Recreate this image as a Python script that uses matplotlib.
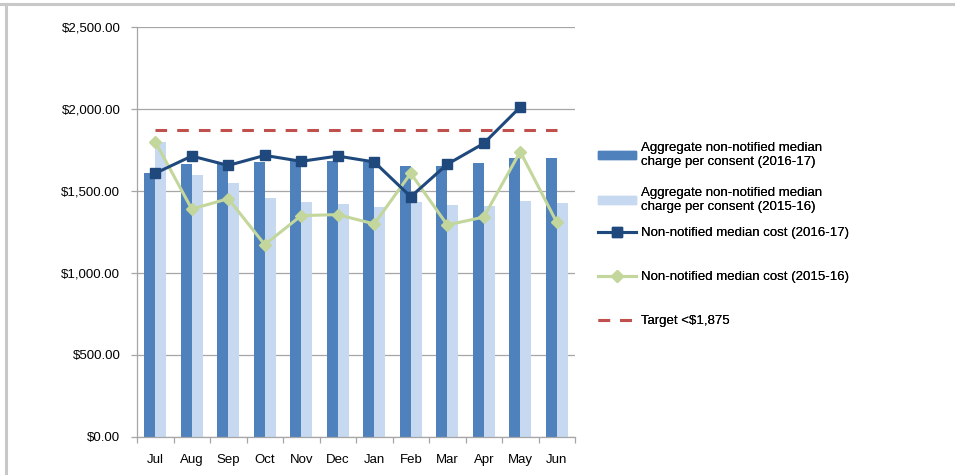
import matplotlib
matplotlib.use('Agg')
import matplotlib.pyplot as plt
import numpy as np
from matplotlib.lines import Line2D
from matplotlib.patches import Rectangle
from matplotlib.ticker import FuncFormatter

plt.rcParams['font.family'] = ['Liberation Sans', 'DejaVu Sans']

months = ["Jul", "Aug", "Sep", "Oct", "Nov", "Dec", "Jan", "Feb", "Mar", "Apr", "May", "Jun"]
charge_1617 = [1611, 1662, 1668, 1679, 1683, 1683, 1675, 1655, 1655, 1671, 1701, 1701]
charge_1516 = [1801, 1598, 1549, 1457, 1435, 1421, 1404, 1431, 1415, 1409, 1439, 1427]
cost_1617 = [1608, 1713, 1656, 1717, 1681, 1713, 1677, 1465, 1663, 1790, 2012, np.nan]
cost_1516 = [1801, 1390, 1453, 1173, 1350, 1356, 1299, 1608, 1293, 1341, 1740, 1309]
target = 1875

labels = ["Aggregate non-notified median\ncharge per consent (2016-17)",
          "Aggregate non-notified median\ncharge per consent (2015-16)",
          "Non-notified median cost (2016-17)",
          "Non-notified median cost (2015-16)",
          "Target <$1,875"]

c_dark_bar = '#4F81BD'
c_light_bar = '#C6D9F1'
c_dark_line = '#1F497D'
c_green = '#C3D69B'
c_red = '#C0504D'
c_grid = '#A6A6A6'

fig = plt.figure(figsize=(9.55, 4.75), dpi=100)
ax = fig.add_axes([137 / 955, 38 / 475, 438 / 955, 410 / 475])

x = np.arange(len(months))
w = 0.3
ax.bar(x - w / 2, charge_1617, w, color=c_dark_bar, zorder=2)
ax.bar(x + w / 2, charge_1516, w, color=c_light_bar, zorder=2)
ax.plot(x, cost_1617, color=c_dark_line, lw=2.2, marker='s', ms=7.5, zorder=4)
ax.plot(x, cost_1516, color=c_green, lw=2.2, marker='D', ms=6.5, zorder=3)
ax.plot(x, [target] * len(x), color=c_red, lw=2.2, dashes=(3.8, 3.3), zorder=3)

ax.set_xlim(-0.5, len(months) - 0.5)
ax.set_ylim(0, 2500)
ax.set_yticks(np.arange(0, 2501, 500))
ax.yaxis.set_major_formatter(FuncFormatter(lambda v, p: "${:,.2f}".format(v)))
ax.set_xticks(x)
ax.set_xticklabels(months)
ax.set_xticks(np.arange(-0.5, len(months)), minor=True)
ax.tick_params(axis='x', which='major', length=0, pad=12, labelsize=9.5)
ax.tick_params(axis='x', which='minor', length=4, color=c_grid, width=0.9)
ax.tick_params(axis='y', length=4, color=c_grid, width=0.9, pad=8, labelsize=9.5)
ax.yaxis.grid(True, color=c_grid, lw=0.9, zorder=0)
ax.set_axisbelow(True)
for s in ['top', 'right']:
    ax.spines[s].set_visible(False)
for s in ['left', 'bottom']:
    ax.spines[s].set_color(c_grid)
    ax.spines[s].set_linewidth(0.9)

# legend, one entry per box so the spacing follows the reference
handles = [Rectangle((0, 0), 1, 1, color=c_dark_bar),
           Rectangle((0, 0), 1, 1, color=c_light_bar),
           Line2D([], [], color=c_dark_line, lw=2.2, marker='s', ms=7.5),
           Line2D([], [], color=c_green, lw=2.2, marker='D', ms=6.5),
           Line2D([], [], color=c_red, lw=2.2, dashes=(3.8, 3.3))]
centers = [155, 200, 233, 277, 321]
for h, lab, cy in zip(handles, labels, centers):
    leg = fig.legend([h], [lab], loc='center left', bbox_to_anchor=(598 / 955, 1 - cy / 475),
                     frameon=False, fontsize=9.5, handlelength=2.9, handleheight=0.55,
                     handletextpad=0.35, borderpad=0, borderaxespad=0)
    fig.add_artist(leg)

# gray frame on the top and left edge
fig.add_artist(Line2D([0, 1], [1 - 3.5 / 475] * 2, transform=fig.transFigure, color='#C8C8C8', lw=2.2))
fig.add_artist(Line2D([6 / 955] * 2, [0, 1 - 3.5 / 475], transform=fig.transFigure, color='#C8C8C8', lw=2.2))

plt.savefig('out.png', dpi=100)
